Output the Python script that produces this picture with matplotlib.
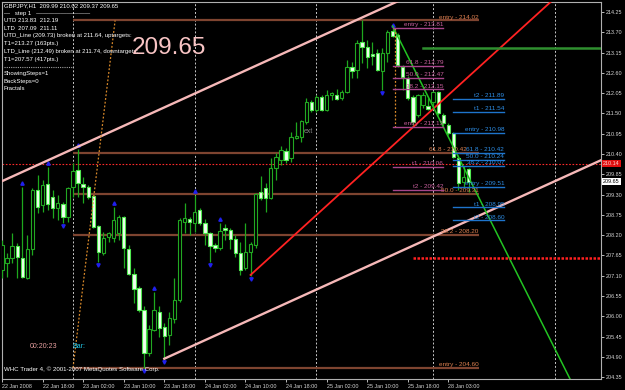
import matplotlib
matplotlib.use("Agg")
import matplotlib.pyplot as plt
import matplotlib.transforms as mtrans
from matplotlib.patches import Rectangle
from matplotlib.lines import Line2D

plt.rcParams['font.family'] = ['Liberation Sans', 'DejaVu Sans']

# ---------------- data ----------------
# H1 bars, index 0 = 23 Jan 2008 00:00
bar_index = list(range(-14, 79))
opens = [207.26, 207.45, 207.58, 207.91, 207.58, 207.04, 207.83, 209.43, 209.02, 209.59,
         209.24, 208.94, 209.05, 208.69, 209.51, 209.97, 209.59, 209.51, 209.26, 208.45,
         207.72, 208.15, 208.12, 208.26, 208.69, 207.83, 207.15, 206.77, 206.17, 205.01,
         205.63, 206.12, 205.71, 205.50, 205.93, 206.45, 208.56, 208.64, 208.53, 208.88,
         208.53, 208.26, 207.94, 207.85, 208.40, 208.34, 208.10, 207.72, 207.31, 207.75,
         207.94, 209.37, 209.48, 209.21, 210.02, 210.24, 210.48, 210.29, 210.83, 210.86,
         211.27, 211.81, 211.59, 211.95, 211.59, 212.00, 212.00, 211.92, 212.08, 212.76,
         212.68, 213.44, 213.30, 213.11, 213.14, 212.65, 213.14, 213.74, 213.63, 212.76,
         212.46, 211.95, 211.46, 211.73, 211.70, 211.81, 212.08, 211.46, 211.19, 210.97,
         210.29, 209.64, 209.99]
highs = [208.07, 207.72, 208.26, 207.99, 209.51, 208.21, 209.48, 209.83, 209.70, 210.05,
         209.43, 209.29, 209.10, 209.51, 210.16, 210.54, 209.78, 209.56, 209.29, 208.48,
         208.29, 208.29, 208.97, 208.75, 208.72, 207.94, 207.31, 206.82, 206.28, 205.77,
         206.66, 206.28, 205.82, 206.12, 207.04, 208.67, 209.08, 208.69, 209.29, 208.94,
         208.64, 208.29, 207.99, 208.53, 208.50, 208.40, 208.21, 208.02, 208.53, 208.02,
         209.34, 209.81, 209.62, 210.29, 210.43, 210.62, 210.56, 211.00, 211.27, 211.32,
         211.92, 211.86, 212.00, 212.00, 212.14, 212.08, 212.16, 212.14, 212.95, 212.89,
         213.49, 214.02, 213.49, 213.44, 213.25, 213.27, 213.76, 213.81, 213.68, 212.81,
         212.52, 212.00, 212.03, 212.08, 211.92, 212.11, 212.11, 211.51, 211.24, 211.00,
         210.37, 210.08, 210.02]
lows = [207.04, 207.07, 207.45, 207.04, 207.05, 207.02, 207.66, 208.80, 208.83, 208.88,
        208.67, 208.61, 208.54, 208.56, 209.24, 209.24, 209.08, 209.18, 208.40, 207.48,
        207.66, 208.02, 208.02, 208.07, 207.31, 207.12, 206.36, 206.12, 204.60, 204.93,
        205.60, 205.44, 204.85, 205.22, 205.82, 206.39, 208.26, 208.21, 208.29, 208.48,
        207.94, 207.48, 207.75, 207.80, 208.07, 207.83, 207.61, 207.12, 207.26, 207.10,
        207.85, 209.16, 208.83, 209.19, 209.70, 210.10, 210.16, 210.18, 210.81, 210.73,
        211.21, 211.54, 211.54, 211.57, 211.57, 211.86, 211.86, 211.86, 212.06, 212.46,
        212.46, 212.87, 212.73, 212.81, 212.65, 212.14, 212.89, 213.57, 212.76, 212.14,
        211.86, 211.13, 211.40, 211.65, 211.59, 211.65, 211.46, 211.16, 210.92, 210.29,
        209.43, 209.48, 209.37]
closes = [207.94, 207.58, 207.91, 207.61, 207.07, 207.83, 209.43, 208.97, 209.56, 209.05,
          208.94, 209.08, 208.69, 209.48, 209.94, 209.62, 209.51, 209.24, 208.42, 207.75,
          208.12, 208.26, 208.61, 208.69, 207.85, 207.15, 206.74, 206.17, 205.01, 205.66,
          206.17, 205.69, 205.47, 205.96, 206.45, 208.61, 208.67, 208.56, 208.83, 208.53,
          208.26, 207.91, 207.85, 208.31, 208.34, 208.10, 207.72, 207.26, 207.75, 207.96,
          209.32, 209.21, 209.21, 210.02, 210.32, 210.51, 210.24, 210.86, 210.89, 211.30,
          211.81, 211.59, 211.95, 211.59, 212.00, 212.06, 211.89, 212.08, 212.76, 212.65,
          213.41, 213.30, 213.03, 213.06, 212.68, 213.14, 213.71, 213.60, 212.81, 212.49,
          211.92, 211.27, 212.00, 212.00, 211.62, 212.08, 211.51, 211.24, 210.97, 210.32,
          209.62, 209.78, 209.65]

up_fractals = [-10, -5, 1, 8, 16, 24, 29, 63]
down_fractals = [-2, 5, 14, 18, 27, 35, 61]

day_separators = [0, 24, 48, 71, 95]
time_tick_bars = [-14, -6, 2, 10, 18, 26, 34, 42, 50, 58, 66, 74]
time_tick_labels = ["22 Jan 2008", "22 Jan 18:00", "23 Jan 02:00", "23 Jan 10:00",
                    "23 Jan 18:00", "24 Jan 02:00", "24 Jan 10:00", "24 Jan 18:00",
                    "25 Jan 02:00", "25 Jan 10:00", "25 Jan 18:00", "28 Jan 03:00"]
price_ticks = [204.35, 204.90, 205.45, 206.00, 206.55, 207.10, 207.65, 208.20, 208.75,
               209.30, 209.85, 210.40, 210.95, 211.50, 212.05, 212.60, 213.15, 213.70, 214.25]

# trend lines (bar, price)
upper_channel = [(1, 210.60), (57, 214.10)]
lower_channel_start = (18, 204.85)
red_line = [(35, 207.12), (94, 214.50)]
green_line = [(63, 213.87), (98, 204.30)]

# fib levels (brown): spans bars 0..80
brown_levels = [214.02, 210.42, 209.31, 208.20, 204.60]
brown_labels = ["entry - 214.02", "61.8 - 210.42", "50.0 - 209.31", "38.2 - 208.20", "entry - 204.60"]
brown_span = (0, 80)
# magenta levels: bars 63..73
magenta_levels = [213.81, 212.79, 212.47, 212.15, 211.13, 210.06, 209.42]
magenta_labels = ["entry - 213.81", "61.8 - 212.79", "50.0 - 212.47", "38.2 - 212.15",
                  "entry - 211.13", "t1 - 210.06", "t2 - 209.42"]
magenta_span = (63, 73)
# blue levels: bars 75..85
blue_levels = [211.89, 211.54, 210.98, 210.42, 210.24, 210.07, 209.51, 208.95, 208.60]
blue_labels = ["t2 - 211.89", "t1 - 211.54", "entry - 210.98", "61.8 - 210.42",
               "50.0 - 210.24", "38.2 - 210.07", "entry - 209.51", "t1 - 208.95", "t2 - 208.60"]
blue_span = (75, 85)

up_target = 213.27      # green horizontal from bar 69
down_target = 207.57    # red dotted from bar 67
alert_level = 210.14
bid_price = 209.65

left_orange = [(0, 204.60), (8.3, 214.02)]
right_orange = [(63.5, 213.81), (63.5, 211.13)]

# ---------------- figure ----------------
W, H = 625, 390
fig = plt.figure(figsize=(W / 100, H / 100), dpi=100, facecolor='black')
ax = fig.add_axes([2 / W, 11 / H, 599 / W, 377 / H], facecolor='black')
ax.set_xlim(-14.0, 104.1)
ax.set_ylim(204.30, 214.52)

for d in day_separators:
    ax.axvline(d, color='#c8c8c8', lw=0.7, ls=(0, (2, 2)), zorder=1)

# brown fib lines
for lv, lb in zip(brown_levels, brown_labels):
    ax.plot(brown_span, [lv, lv], color='#7e4430', lw=1.6, zorder=2, solid_capstyle='butt')
    dx = -9 if lb.startswith("61.8") else 0
    ax.annotate(lb, (brown_span[1], lv), xytext=(dx, 0.6), textcoords='offset points',
                ha='right', va='bottom', color='#dd8050', fontsize=4.6, zorder=6)

# alert red dotted
ax.axhline(alert_level, color='#ff2a2a', lw=0.8, ls=(0, (1.5, 1.5)), zorder=2)

# candles
for i, o, h, l, c in zip(bar_index, opens, highs, lows, closes):
    ax.plot([i, i], [l, h], color='#1ea81e', lw=0.9, zorder=3, solid_capstyle='butt')
    lo, hi = min(o, c), max(o, c)
    hgt = max(hi - lo, 0.035)
    if c >= o:
        face, edge = 'black', '#22a822'
    else:
        face, edge = '#f2fff0', '#50e850'
    ax.add_patch(Rectangle((i - 0.33, lo), 0.66, hgt, facecolor=face, edgecolor=edge,
                           lw=0.8, zorder=4))

# fractals
up_tr = ax.transData + mtrans.ScaledTranslation(0, 2.5 / 72, fig.dpi_scale_trans)
dn_tr = ax.transData + mtrans.ScaledTranslation(0, -2.5 / 72, fig.dpi_scale_trans)
ax.plot(up_fractals, [highs[bar_index.index(k)] for k in up_fractals], ls='none', marker='^',
        ms=2.4, color='#2020ee', transform=up_tr, zorder=5)
ax.plot(down_fractals, [lows[bar_index.index(k)] for k in down_fractals], ls='none', marker='v',
        ms=2.4, color='#2020ee', transform=dn_tr, zorder=5)

# channel lines
(x1, y1), (x2, y2) = upper_channel
slope = (y2 - y1) / (x2 - x1)
xa, xb = -14.0, 104.1
ax.plot([xa, xb], [y1 + slope * (xa - x1), y1 + slope * (xb - x1)], color='#f6b8b8', lw=1.7, zorder=5)
lx, ly = lower_channel_start
ax.plot([lx, xb], [ly, ly + slope * (xb - lx)], color='#f6b8b8', lw=1.7, zorder=5)

(rx1, ry1), (rx2, ry2) = red_line
rs = (ry2 - ry1) / (rx2 - rx1)
ax.plot([rx1, xb], [ry1, ry1 + rs * (xb - rx1)], color='#ff2222', lw=1.3, zorder=5)
(gx1, gy1), (gx2, gy2) = green_line
gs = (gy2 - gy1) / (gx2 - gx1)
ax.plot([gx1, xb], [gy1, gy1 + gs * (xb - gx1)], color='#22c422', lw=1.1, zorder=5)

ax.plot([69, xb], [up_target, up_target], color='#2f8f2f', lw=1.8, zorder=5)
ax.plot([67, xb], [down_target, down_target], color='#ff2020', lw=1.8, ls=(0, (1, 0.6)), zorder=5)

# orange dotted
ax.plot(*zip(*left_orange), color='#d9892a', lw=0.9, ls=(0, (1.5, 1.5)), zorder=5)
ax.plot(*zip(*right_orange), color='#d9892a', lw=0.9, ls=(0, (1.5, 1.5)), zorder=5)

# magenta levels
for lv, lb in zip(magenta_levels, magenta_labels):
    ax.plot(magenta_span, [lv, lv], color='#a8458a', lw=1.0, zorder=6)
    ax.annotate(lb, (magenta_span[1], lv), xytext=(0, 0.6), textcoords='offset points',
                ha='right', va='bottom', color='#c8609e', fontsize=4.6, zorder=7)
# blue levels
for lv, lb in zip(blue_levels, blue_labels):
    ax.plot(blue_span, [lv, lv], color='#1e74cc', lw=1.0, zorder=6)
    ax.annotate(lb, (blue_span[1], lv), xytext=(0, 0.6), textcoords='offset points',
                ha='right', va='bottom', color='#2e8ee6', fontsize=4.6, zorder=7)

ax.text(46.5, 211.00, "ext", color='#808080', fontsize=5, ha='center', va='center', zorder=7)

# axes styling
for s in ax.spines.values():
    s.set_color('#b0b0b0')
    s.set_linewidth(0.8)
ax.yaxis.tick_right()
ax.set_yticks(price_ticks)
ax.set_yticklabels([f"{p:.2f}" for p in price_ticks])
ax.set_xticks(time_tick_bars)
ax.set_xticklabels(time_tick_labels)
for lbl in ax.get_xticklabels():
    lbl.set_horizontalalignment('left')
ax.tick_params(axis='both', colors='#d8d8d8', labelsize=3.9, length=2.5, width=0.6, pad=1.2)

# right-axis boxes
yax = mtrans.blended_transform_factory(ax.transAxes, ax.transData)
ax.text(1.003, alert_level, f"{alert_level:.2f}", transform=yax, fontsize=3.9, color='#ffd0d0',
        va='center', ha='left', bbox=dict(facecolor='#e01010', edgecolor='none', pad=0.8), zorder=8,
        clip_on=False)
ax.text(1.003, bid_price, f"{bid_price:.2f}", transform=yax, fontsize=3.9, color='black',
        va='center', ha='left', bbox=dict(facecolor='white', edgecolor='none', pad=0.8), zorder=8,
        clip_on=False)

# ---------------- texts ----------------
def ftxt(x, y, s, **kw):
    fig.text(x / W, 1 - y / H, s, va='center', ha='left', **kw)

info_lines = [
    (6, "GBPJPY,H1  209.99 210.02 209.37 209.65"),
    (13, "—   step 1   —————————"),
    (21, "UTD 213.83  212.19"),
    (29, "LTD  207.09  211.11"),
    (36, "UTD_Line (209.73) broken at 211.64, uptargets:"),
    (44, "T1=213.27 (163pts.)"),
    (51, "LTD_Line (212.49) broken at 211.74, downtargets:"),
    (59, "T1=207.57 (417pts.)"),
    (74, "ShowingSteps=1"),
    (82, "BackSteps=0"),
    (89, "Fractals"),
]
for y, s in info_lines:
    ftxt(4, y, s, color='white', fontsize=4.3)
fig.add_artist(Line2D([4 / W, 73 / W], [1 - 67 / H, 1 - 67 / H], color='#a0a0a0', lw=0.8,
                      ls=(0, (1, 1))))

ftxt(132, 48, "209.65", color='#f8c4c4', fontsize=17.5)
ftxt(30, 346, "00:20:23", color='#e8a0a0', fontsize=5)
ftxt(72, 346, "Bar:", color='#22c8e8', fontsize=5)
ftxt(4, 369, "WHC Trader 4, © 2001-2007 MetaQuotes Software Corp.", color='white', fontsize=4.4)

fig.savefig("out.png", dpi=100, facecolor='black')
